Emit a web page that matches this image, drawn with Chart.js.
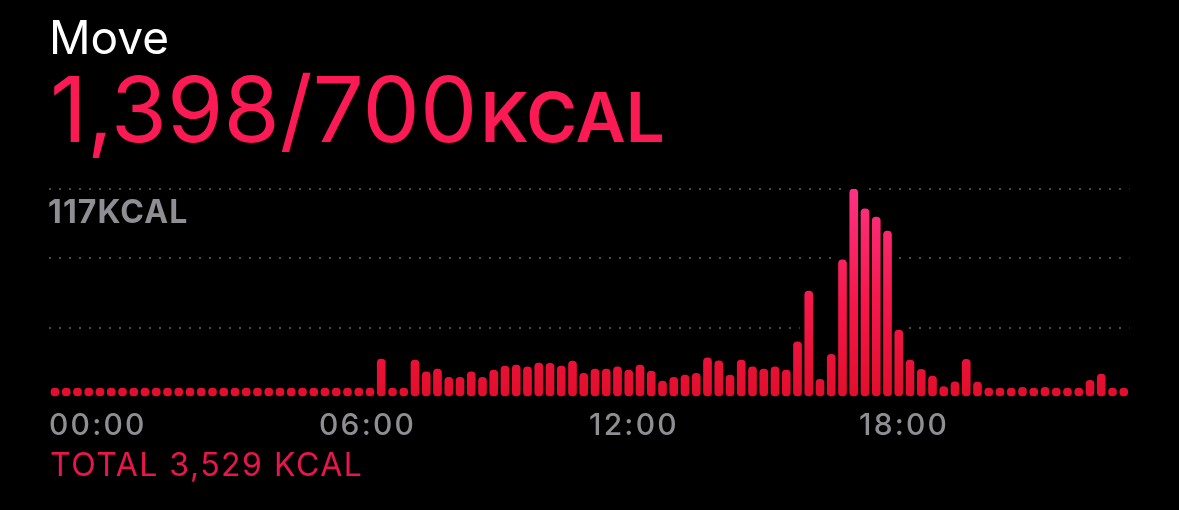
<!DOCTYPE html>
<html>
<head>
<meta charset="utf-8">
<script src="https://cdn.jsdelivr.net/npm/chart.js@4.4.1/dist/chart.umd.min.js"></script>
<style>
  html, body { margin: 0; padding: 0; background: #000; }
  #wrap { position: relative; width: 1179px; height: 510px; overflow: hidden; font-family: Inter, "Liberation Sans", sans-serif; }
  #chart { position: absolute; left: 0; top: 0; }
  .txt { position: absolute; white-space: nowrap; line-height: 1; }
  #title { left: 49px; top: 14px; font-size: 46px; color: #fff; font-weight: 400; }
  #big { left: 50px; top: 64px; font-size: 91px; color: #fb1a53; font-weight: 400; }
  #big span { font-size: 69px; font-weight: 600; margin-left: 3px; }
  #maxlbl { left: 48px; top: 196px; font-size: 32px; color: #8e8e93; font-weight: 700; letter-spacing: 1.1px; }
  #total { left: 50px; top: 449px; font-size: 32px; color: #e8164c; font-weight: 400; letter-spacing: 1.5px; }
</style>
</head>
<body>
<div id="wrap">
  <canvas id="chart" width="1179" height="510"></canvas>
  <div class="txt" id="title">Move</div>
  <div class="txt" id="big">1,398/700<span>KCAL</span></div>
  <div class="txt" id="maxlbl">117KCAL</div>
  <div class="txt" id="total">TOTAL 3,529 KCAL</div>
</div>
<script>
// 15-minute buckets over the day, active kcal
const hourLabels = ['00', '01', '02', '03', '04', '05', '06', '07', '08', '09', '10', '11',
                    '12', '13', '14', '15', '16', '17', '18', '19', '20', '21', '22', '23'];
const quarterLabels = ['00', '15', '30', '45'];
const tickLabels = ['00:00', '06:00', '12:00', '18:00'];

const kcal00to06 = [1, 1, 1, 1, 1, 1, 1, 1, 1, 1, 1, 1, 1, 1, 1, 1, 1, 1, 1, 1, 1, 1, 1, 1];
const kcal06to12 = [1, 1, 1, 1, 1, 21.4, 1, 1, 20.8, 14.2, 15.7, 11.1, 11.1, 14.2, 11.1, 15.2,
                    17.4, 18, 17, 19.1, 19, 17.4, 20.2, 13.3];
const kcal12to18 = [15.7, 15.7, 17, 15.2, 18, 14.6, 9, 11.1, 12.4, 13.3, 22.1, 20.4,
                    12.4, 20.8, 17, 15.7, 17, 15.2, 31.1, 59.6, 10, 24, 77.1, 117];
const kcal18to24 = [105.9, 101.2, 93.3, 37.7, 20.8, 15.6, 11.8, 5.8, 8.6, 21.2, 8.4, 1,
                    1, 1, 5.5, 1, 5.5, 1, 1, 1, 9.4, 12.9, 1, 1];

const yMax = 117;
const yStep = 39;

const categories = [];
hourLabels.forEach(h => quarterLabels.forEach(m => categories.push(h + ':' + m)));
const values = [...kcal00to06, ...kcal06to12, ...kcal12to18, ...kcal18to24];

function barGradient(context) {
    const chart = context.chart;
    const area = chart.chartArea;
    if (!area) return '#e3102c';
    const g = chart.ctx.createLinearGradient(0, area.bottom, 0, area.top);
    g.addColorStop(0, '#e20e2b');
    g.addColorStop(0.45, '#f5174a');
    g.addColorStop(1, '#ff3283');
    return g;
}

// letter spacing for the tick labels, and gaps in the dotted lines where tall bars cross them
const movePlugin = {
    id: 'moveStyle',
    beforeDraw(chart) {
        chart.ctx.letterSpacing = '2.2px';
    },
    beforeDatasetsDraw(chart) {
        const ctx = chart.ctx;
        const yScale = chart.scales.y;
        const bars = chart.getDatasetMeta(0).data;
        yScale.ticks.forEach(t => {
            if (t.value === 0) return;
            const ly = yScale.getPixelForValue(t.value);
            const hit = bars.filter(b => b.y < ly + 5);
            if (!hit.length) return;
            const x0 = Math.min(...hit.map(b => b.x)) - 9;
            const x1 = Math.max(...hit.map(b => b.x)) + 9;
            ctx.save();
            ctx.fillStyle = '#000';
            ctx.fillRect(x0, ly - 2, x1 - x0, 4);
            ctx.restore();
        });
    }
};

new Chart(document.getElementById('chart'), {
    type: 'bar',
    data: {
        labels: categories,
        datasets: [{
            label: 'Move',
            data: values,
            backgroundColor: barGradient,
            barThickness: 8,
            borderRadius: 4,
            borderSkipped: false,
            minBarLength: 9
        }]
    },
    plugins: [movePlugin],
    options: {
        responsive: false,
        animation: false,
        layout: { padding: { left: 49.375, right: 49.625, top: 189, bottom: 0 } },
        plugins: { legend: { display: false }, tooltip: { enabled: false } },
        scales: {
            x: {
                offset: true,
                grid: { display: false, drawTicks: false },
                border: { display: false },
                afterFit(scale) { scale.height = 113; },
                ticks: {
                    autoSkip: false,
                    maxRotation: 0,
                    minRotation: 0,
                    align: 'start',
                    labelOffset: -6,
                    padding: 11,
                    color: '#8e8e93',
                    font: { family: 'Inter', size: 30, weight: '500' },
                    callback: (v, i) => tickLabels.includes(categories[i]) ? categories[i] : ''
                }
            },
            y: {
                min: 0,
                max: yMax,
                afterFit(scale) { scale.width = 0; },
                ticks: { display: false, stepSize: yStep },
                grid: {
                    drawTicks: false,
                    lineWidth: 2,
                    color: ctx => ctx.tick.value === 0 ? 'rgba(0,0,0,0)' : '#4a4a4e'
                },
                border: { display: false, dash: [2, 8] }
            }
        }
    }
});
</script>
</body>
</html>
